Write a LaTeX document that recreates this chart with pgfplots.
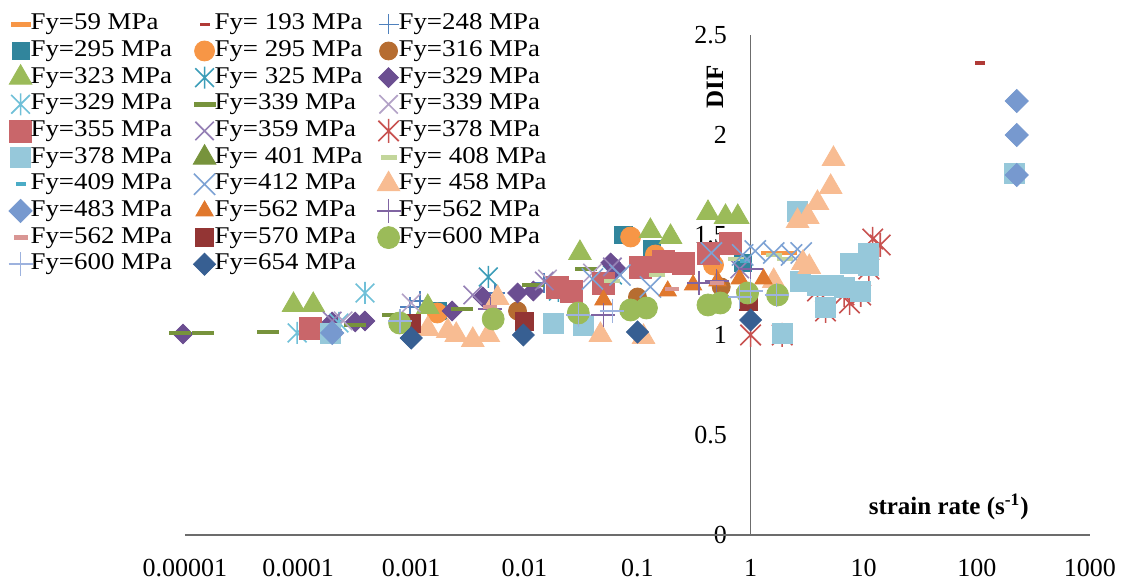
\documentclass[border=0pt]{standalone}
\usepackage{pgfplots}
\pgfplotsset{compat=1.18}
\usepackage{fontspec}
\setmainfont{Liberation Serif}
\newfontfamily\legfont[FakeStretch=1.12]{Liberation Serif}

% series colours
\definecolor{cA}{HTML}{F79646}   % 59
\definecolor{cB}{HTML}{B03A36}   % 193
\definecolor{cC}{HTML}{4F81BD}   % 248
\definecolor{cD}{HTML}{31859C}   % 295 sq
\definecolor{cE}{HTML}{F79646}   % 295 circ
\definecolor{cF}{HTML}{B66D31}   % 316
\definecolor{cG}{HTML}{9BBB59}   % 323
\definecolor{cH}{HTML}{3C9DB8}   % 325
\definecolor{cI}{HTML}{6B4E91}   % 329 dia
\definecolor{cJ}{HTML}{70C0D8}   % 329 star
\definecolor{cK}{HTML}{77933C}   % 339 dash
\definecolor{cL}{HTML}{B3A2C7}   % 339 x
\definecolor{cM}{HTML}{C9666A}   % 355
\definecolor{cN}{HTML}{9580B5}   % 359
\definecolor{cO}{HTML}{C85250}   % 378 star
\definecolor{cP}{HTML}{96C8DA}   % 378 sq
\definecolor{cQ}{HTML}{77933C}   % 401
\definecolor{cR}{HTML}{C3D69B}   % 408
\definecolor{cS}{HTML}{4BACC6}   % 409
\definecolor{cT}{HTML}{7DA2D4}   % 412
\definecolor{cU}{HTML}{F8BC92}   % 458
\definecolor{cV}{HTML}{7799CF}   % 483
\definecolor{cW}{HTML}{E0782D}   % 562 tri
\definecolor{cX}{HTML}{8064A2}   % 562 plus
\definecolor{cY}{HTML}{D99694}   % 562 dash
\definecolor{cZ}{HTML}{933534}   % 570
\definecolor{ca}{HTML}{9BBB59}   % 600 circ
\definecolor{cb}{HTML}{9DB2DE}   % 600 plus
\definecolor{cc}{HTML}{375F92}   % 654

% asterisk-like star: vertical bar plus a cross
\pgfdeclareplotmark{xlstar}{%
  \pgfpathmoveto{\pgfqpoint{0pt}{\pgfplotmarksize}}%
  \pgfpathlineto{\pgfqpoint{0pt}{-\pgfplotmarksize}}%
  \pgfpathmoveto{\pgfqpoint{-.85\pgfplotmarksize}{-.85\pgfplotmarksize}}%
  \pgfpathlineto{\pgfqpoint{.85\pgfplotmarksize}{.85\pgfplotmarksize}}%
  \pgfpathmoveto{\pgfqpoint{-.85\pgfplotmarksize}{.85\pgfplotmarksize}}%
  \pgfpathlineto{\pgfqpoint{.85\pgfplotmarksize}{-.85\pgfplotmarksize}}%
  \pgfusepathqstroke}

\pgfplotsset{
  sc/.style={only marks,
    legend image code/.code={%
      \path[draw=none, fill=none] (0pt,-4pt) rectangle (8pt,4pt);
      \begin{pgfinterruptboundingbox}
      \draw[##1] plot coordinates {(4pt,0pt)};
      \end{pgfinterruptboundingbox}}},
  sq/.style={sc, mark=square*, line width=0.4pt, mark size=#1},
  ci/.style={sc, mark=*, line width=0.4pt, mark size=#1},
  tr/.style={sc, mark=triangle*, line width=0.4pt, mark size=#1},
  di/.style={sc, mark=square*, line width=0.4pt, mark size=#1, mark options={rotate=45}},
  st/.style={sc, mark=xlstar, line width=0.8pt, mark size=#1},
  xx/.style={sc, mark=x, line width=0.8pt, mark size=#1},
  pl/.style={sc, mark=+, line width=0.8pt, mark size=#1},
  ds/.style={sc, mark=-, line width=2.3pt, mark size=#1},
}
\newcommand{\lgd}[1]{\makebox[82pt][l]{#1}}

\begin{document}
\begin{tikzpicture}
\useasboundingbox (-92.5pt,-23pt) rectangle (468pt,267.5pt);
\begin{axis}[
  at={(0pt,0pt)}, anchor=south west,
  scale only axis, width=452.5pt, height=250pt,
  xmode=log, xmin=1e-5, xmax=1000, ymin=0, ymax=2.5,
  axis line style={draw=none},
  major tick length=0pt, minor tick length=0pt,
  xtick={1e-5,1e-4,1e-3,1e-2,1e-1,1,10,100,1000},
  xticklabels={0.00001,0.0001,0.001,0.01,0.1,1,10,100,1000},
  ytick={0,0.5,1,1.5,2,2.5},
  yticklabels={0,0.5,1,1.5,2,2.5},
  xticklabel style={yshift=-8.5pt},
  yticklabel style={xshift=274.5pt},
  tick label style={font=\fontsize{13}{15}\selectfont},
  /pgf/number format/assume math mode=true,
  clip=false,
  legend columns=3,
  legend cell align=left,
  legend style={draw=none, fill=none, at={(-0.1905,1.048)}, anchor=north west,
    inner sep=0pt, outer sep=0pt, row sep=0pt, column sep=0pt,
    font=\legfont\fontsize{12}{13}\selectfont,
    nodes={inner sep=1pt, text height=8.4pt, text depth=2.93pt}},
]
\draw[gray!85!black, line width=0.75pt] (axis cs:1e-5,0) -- (axis cs:1000,0);
\draw[gray!85!black, line width=0.75pt] (axis cs:1,0) -- (axis cs:1,2.5);

\addplot[ds=5pt, color=cA] coordinates {(1.5,1.41) (2.1,1.41)};
\addlegendentry{\lgd{Fy=59 MPa}}
\addplot[ds=2.5pt, line width=1.8pt, color=cB] coordinates {(106,2.36)};
\addlegendentry{\lgd{Fy= 193 MPa}}
\addplot[pl=5pt, color=cC] coordinates {(0.00098,1.14) (0.0012,1.17) (0.0055,1.21) (0.015,1.26)};
\addlegendentry{\lgd{Fy=248 MPa}}
\addplot[sq=4.3pt, color=cD] coordinates {(0.0017,1.12) (0.075,1.50) (0.135,1.43) (0.85,1.36)};
\addlegendentry{\lgd{Fy=295 MPa}}
\addplot[ci=5pt, color=cE] coordinates {(0.0017,1.11) (0.087,1.49) (0.144,1.40) (0.47,1.35)};
\addlegendentry{\lgd{Fy= 295 MPa}}
\addplot[ci=4.5pt, color=cF] coordinates {(0.0087,1.12) (0.1,1.19) (0.55,1.24)};
\addlegendentry{\lgd{Fy=316 MPa}}
\addplot[tr=6.5pt, color=cG] coordinates {(9.1e-5,1.15) (1.36e-4,1.15) (0.0014,1.14) (0.031,1.41) (0.13,1.52) (0.196,1.49) (0.42,1.61) (0.6,1.59) (0.77,1.59)};
\addlegendentry{\lgd{Fy=323 MPa}}
\addplot[st=5.5pt, color=cH] coordinates {(0.0048,1.29) (0.02,1.22) (0.06,1.3)};
\addlegendentry{\lgd{Fy= 325 MPa}}
\addplot[di=3.5pt, color=cI] coordinates {(9.6e-6,1.005) (2.0e-4,1.065) (3.2e-4,1.065) (3.9e-4,1.07) (0.0023,1.12) (0.0043,1.19) (0.0087,1.21) (0.012,1.22) (0.058,1.36) (0.065,1.33)};
\addlegendentry{\lgd{Fy=329 MPa}}
\addplot[st=5.5pt, color=cJ] coordinates {(9.8e-5,1.01) (2.3e-4,1.06) (3.9e-4,1.21)};
\addlegendentry{\lgd{Fy=329 MPa}}
\addplot[ds=5.5pt, color=cK] coordinates {(9.1e-6,1.01) (1.44e-5,1.01) (5.4e-5,1.015) (3.2e-4,1.05) (6.9e-4,1.10) (0.0028,1.13) (0.012,1.25) (0.035,1.33)};
\addlegendentry{\lgd{Fy=339 MPa}}
\addplot[xx=6.5pt, color=cL] coordinates {(2.5e-4,1.07) (0.001,1.16) (0.016,1.28) (0.04,1.31)};
\addlegendentry{\lgd{Fy=339 MPa}}
\addplot[sq=5.5pt, color=cM] coordinates {(1.28e-4,1.035) (0.0195,1.24) (0.026,1.22) (0.05,1.26) (0.106,1.34) (0.17,1.37) (0.255,1.36) (0.42,1.41) (0.66,1.46)};
\addlegendentry{\lgd{Fy=355 MPa}}
\addplot[xx=6.5pt, color=cN] coordinates {(2.0e-4,1.07) (0.0035,1.2) (0.015,1.27) (0.06,1.34) (0.8,1.33)};
\addlegendentry{\lgd{Fy=359 MPa}}
\addplot[st=6pt, color=cO] coordinates {(1.0,1.0) (1.9,1.0) (3.9,1.22) (4.6,1.12) (6.7,1.2) (7.5,1.16) (9.4,1.2) (11.1,1.33) (12,1.48) (14,1.45)};
\addlegendentry{\lgd{Fy=378 MPa}}
\addplot[sq=5pt, color=cP] coordinates {(1.92e-4,1.01) (0.018,1.06) (0.033,1.05) (1.92,1.01) (2.6,1.62) (2.77,1.27) (3.9,1.25) (4.6,1.14) (5.4,1.25) (6.7,1.24) (7.7,1.36) (9.4,1.22) (11.1,1.41) (11.1,1.35) (213,1.81)};
\addlegendentry{\lgd{Fy=378 MPa}}
\addlegendimage{tr=6.5pt, color=cQ}
\addlegendentry{\lgd{Fy= 401 MPa}}
\addplot[ds=4pt, color=cR] coordinates {(0.06,1.27) (0.15,1.3) (0.75,1.38) (1.6,1.4) (2.0,1.38)};
\addlegendentry{\lgd{Fy= 408 MPa}}
\addplot[ds=2.5pt, line width=1.8pt, color=cS] coordinates {(0.9,1.37)};
\addlegendentry{\lgd{Fy=409 MPa}}
\addplot[xx=7.5pt, color=cT] coordinates {(0.04,1.28) (0.07,1.3) (0.13,1.24) (0.45,1.41) (0.85,1.40) (1.1,1.42) (1.6,1.41) (2.3,1.40) (2.8,1.41)};
\addlegendentry{\lgd{Fy=412 MPa}}
\addplot[tr=6.5pt, color=cU] coordinates {(0.0014,1.03) (0.0021,1.02) (0.0025,1.0) (0.0035,0.975) (0.0048,1.0) (0.0058,1.185) (0.047,1.0) (0.113,0.99) (1.6,1.27) (2.6,1.57) (3.2,1.59) (2.9,1.36) (3.3,1.34) (3.9,1.66) (5.1,1.74) (5.4,1.88)};
\addlegendentry{\lgd{Fy= 458 MPa}}
\addplot[di=4.1pt, color=cV] coordinates {(2.0e-4,1.01) (225,2.17) (225,2.0) (225,1.80)};
\addlegendentry{\lgd{Fy=483 MPa}}
\addplot[tr=5pt, color=cW] coordinates {(0.05,1.175) (0.185,1.22) (0.31,1.25) (0.51,1.27) (0.8,1.28) (1.3,1.28)};
\addlegendentry{\lgd{Fy=562 MPa}}
\addplot[pl=6pt, color=cX] coordinates {(0.005,1.13) (0.05,1.1) (0.35,1.26) (0.5,1.27) (1.0,1.33)};
\addlegendentry{\lgd{Fy=562 MPa}}
\addplot[ds=3.5pt, color=cY] coordinates {(0.005,1.14) (0.2,1.23) (0.5,1.26) (0.85,1.22)};
\addlegendentry{\lgd{Fy=562 MPa}}
\addplot[sq=4.5pt, color=cZ] coordinates {(0.001,1.06) (0.01,1.07) (0.95,1.17)};
\addlegendentry{\lgd{Fy=570 MPa}}
\addplot[ci=5.5pt, color=ca] coordinates {(7.9e-4,1.06) (0.0053,1.08) (0.03,1.11) (0.087,1.125) (0.12,1.135) (0.42,1.15) (0.54,1.16) (0.94,1.21) (1.73,1.20)};
\addlegendentry{\lgd{Fy=600 MPa}}
\addplot[pl=6pt, color=cb] coordinates {(8e-4,1.07) (0.03,1.1) (0.06,1.12) (0.8,1.19) (1.0,1.22) (1.7,1.2)};
\addlegendentry{\lgd{Fy=600 MPa}}
\addplot[di=3.9pt, color=cc] coordinates {(0.001,0.985) (0.0098,1.0) (0.1,1.015) (1,1.075)};
\addlegendentry{\lgd{Fy=654 MPa}}

\node[rotate=90, font=\bfseries\fontsize{12.5}{14}\selectfont] at (rel axis cs:0.5856,0.896) {DIF};
\node[font=\bfseries\fontsize{12.5}{14}\selectfont] at (rel axis cs:0.844,0.056) {strain rate (s\textsuperscript{-1})};
\end{axis}
\end{tikzpicture}
\end{document}
